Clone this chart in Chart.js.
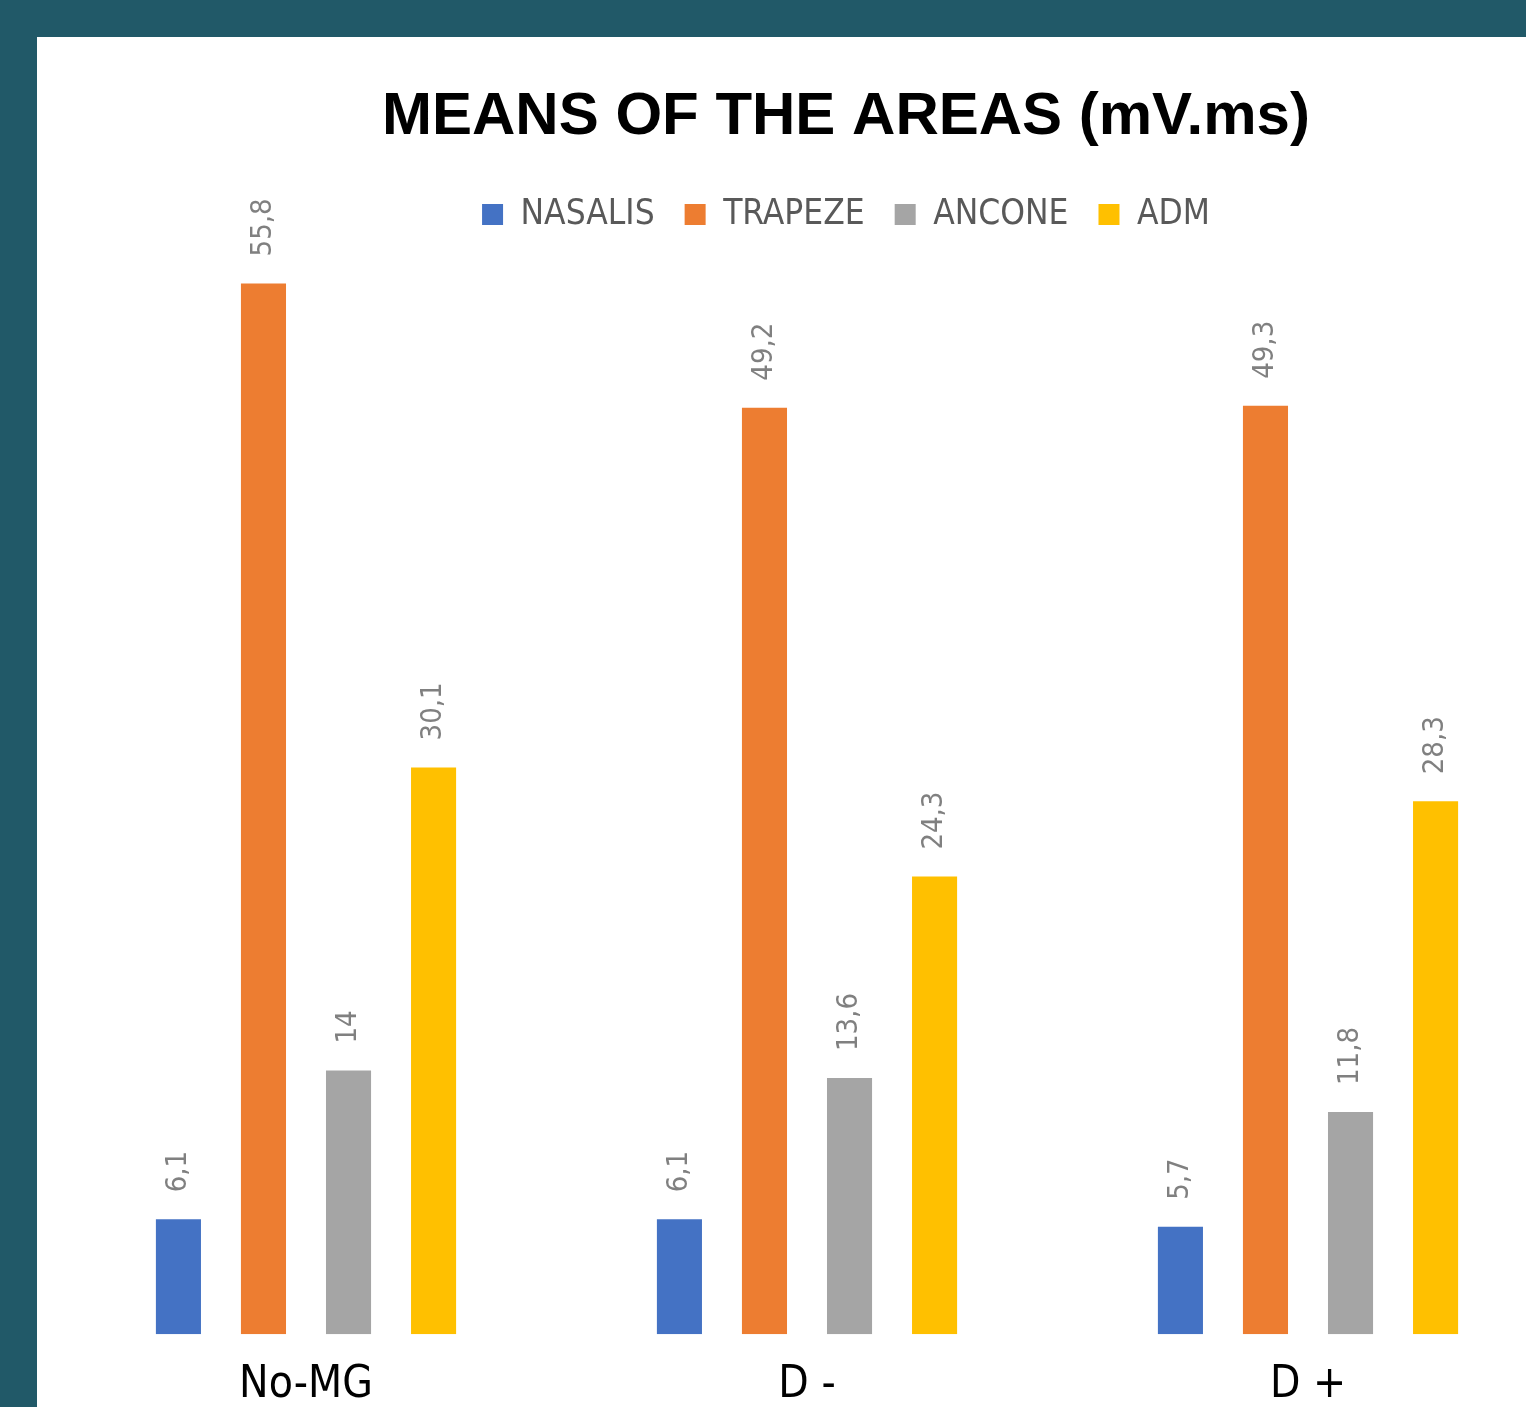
<!DOCTYPE html>
<html>
<head>
<meta charset="utf-8">
<script src="https://cdn.jsdelivr.net/npm/chart.js@4.4.0/dist/chart.umd.min.js"></script>
<style>
  html, body { margin: 0; padding: 0; }
  body { background: #215968; width: 1526px; height: 1407px; overflow: hidden; position: relative; }
  #folha { position: absolute; left: 37px; top: 37px; width: 1618px; height: 1392px; background: #fff; }
</style>
</head>
<body>
<div id="folha"><canvas id="graficoAreas" width="1618" height="1392"></canvas></div>
<script>
// dados
const grupos = ["No-MG", "D -", "D +"];
const musculos = ["NASALIS", "TRAPEZE", "ANCONE", "ADM"];
const nasalis = [6.1, 6.1, 5.7];
const trapeze = [55.8, 49.2, 49.3];
const ancone = [14, 13.6, 11.8];
const adm = [30.1, 24.3, 28.3];
const cores = ["#4472c4", "#ed7d31", "#a5a5a5", "#ffc000"];

const fonteEstreita = '"DejaVu Sans Condensed", "DejaVu Sans", sans-serif';

// rotulos dos valores, girados, acima de cada barra
const rotulosValores = {
  id: "rotulosValores",
  afterDatasetsDraw(chart) {
    const ctx = chart.ctx;
    ctx.save();
    ctx.font = "29px " + fonteEstreita;
    ctx.fillStyle = "#808080";
    ctx.textAlign = "left";
    ctx.textBaseline = "middle";
    chart.data.datasets.forEach((ds, i) => {
      chart.getDatasetMeta(i).data.forEach((barra, j) => {
        const texto = String(ds.data[j]).replace(".", ",");
        ctx.save();
        ctx.translate(barra.x, barra.y - 27);
        ctx.rotate(-Math.PI / 2);
        ctx.fillText(texto, 0, 0);
        ctx.restore();
      });
    });
    ctx.restore();
  }
};

const series = [nasalis, trapeze, ancone, adm];

new Chart(document.getElementById("graficoAreas").getContext("2d"), {
  type: "bar",
  data: {
    labels: grupos,
    datasets: series.map((valores, i) => ({
      label: musculos[i],
      data: valores,
      backgroundColor: cores[i],
      categoryPercentage: 0.679,
      barPercentage: 0.53
    }))
  },
  options: {
    responsive: false,
    animation: false,
    layout: { padding: { left: 18.5, right: 18.5, top: 0, bottom: 0 } },
    plugins: {
      tooltip: { enabled: false },
      title: {
        display: true,
        text: "MEANS OF THE AREAS (mV.ms)",
        color: "#000",
        font: { family: '"Liberation Sans", Arial, sans-serif', size: 60, weight: "bold" },
        padding: { top: 44, bottom: 14 }
      },
      legend: {
        labels: {
          color: "#595959",
          boxWidth: 21,
          boxHeight: 21,
          padding: 30,
          font: { family: fonteEstreita, size: 35 }
        }
      }
    },
    scales: {
      x: {
        grid: { display: false },
        border: { display: false },
        ticks: { color: "#000", padding: 17, font: { family: fonteEstreita, size: 44 } }
      },
      y: {
        position: "right",
        min: 0,
        max: 58,
        grid: { display: false },
        border: { display: false },
        ticks: { display: false },
        afterFit(scale) { scale.width = 78; }
      }
    }
  },
  plugins: [rotulosValores]
});
</script>
</body>
</html>
